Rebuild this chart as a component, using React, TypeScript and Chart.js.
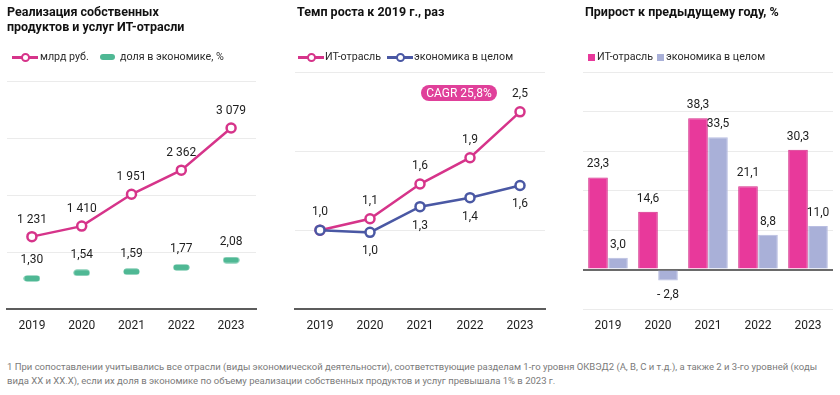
import React, { useEffect, useRef } from "react";
import { Chart, registerables } from "chart.js";

Chart.register(...registerables);

// ---------- data ----------
const years = ["2019", "2020", "2021", "2022", "2023"];
const itRevenue = [1231, 1410, 1951, 2362, 3079]; // млрд руб.
const itShare = [1.3, 1.54, 1.59, 1.77, 2.08]; // доля в экономике, %
const itRate = [1.0, 1.145, 1.585, 1.919, 2.501]; // темп роста к 2019
const econRate = [1.0, 0.972, 1.298, 1.412, 1.567];
const itGrowth = [23.3, 14.6, 38.3, 21.1, 30.3]; // прирост, %
const econGrowth = [3.0, -2.8, 33.5, 8.8, 11.0];

const PINK_LINE = "#d6348a";
const PINK_BAR = "#e8399b";
const GREEN = "#4fb894";
const BLUE = "#4a58a4";
const LIGHT_BLUE = "#a9b0d8";
const GRID = "#ebebeb";
const AXIS = "#5c5c5c";
const FONT = "Roboto, 'Open Sans', sans-serif";

const fmtThousands = (v: number) => {
  const s = Math.round(v).toString();
  return s.replace(/\B(?=(\d{3})+(?!\d))/g, " ");
};
const fmtDec = (d: number) => (v: number) => {
  const s = Math.abs(v).toFixed(d).replace(".", ",");
  return v < 0 ? "- " + s : s;
};

const labelPlugin = {
  id: "valueLabels",
  afterDatasetsDraw(chart: any) {
    const ctx = chart.ctx;
    ctx.save();
    ctx.font = "12px " + FONT;
    ctx.fillStyle = "#1e1e1e";
    ctx.textAlign = "center";
    ctx.textBaseline = "middle";
    chart.data.datasets.forEach((ds: any, i: number) => {
      const meta = chart.getDatasetMeta(i);
      const fmt = ds.fmt;
      if (!fmt) return;
      const skip: number[] = ds.skipLabels || [];
      meta.data.forEach((el: any, j: number) => {
        if (skip.includes(j)) return;
        const v = ds.data[j];
        const p = el.getProps(["x", "y"], true);
        let ly: number;
        if (meta.type === "bar") {
          ly = v >= 0 ? p.y - 13 : p.y + 14;
        } else {
          ly = p.y + ds.labelOffset;
        }
        ctx.fillText(fmt(v), p.x, ly);
      });
    });
    ctx.restore();
  },
};

function makeDash(color: string) {
  const c = document.createElement("canvas");
  c.width = 17;
  c.height = 7;
  const g = c.getContext("2d")!;
  g.fillStyle = color;
  g.beginPath();
  (g as any).roundRect(0.5, 0.5, 16, 6, 3);
  g.fill();
  return c;
}

const xAxis = (borderColor: string | null) => ({
  type: "category" as const,
  offset: true,
  grid: { display: false, drawTicks: false, offset: true },
  border: borderColor
    ? { display: true, color: borderColor, width: 2 }
    : { display: false },
  ticks: {
    color: "#1e1e1e",
    font: { family: FONT, size: 12 },
    padding: 10,
    maxRotation: 0,
    autoSkip: false,
  },
  afterFit: (s: any) => {
    s.height = 36;
  },
});

function useChart(ref: React.RefObject<HTMLCanvasElement | null>, build: () => any) {
  useEffect(() => {
    if (!ref.current) return;
    const chart = new Chart(ref.current, build());
    return () => chart.destroy();
  }, []);
}

const baseOpts = (padding: any) => ({
  responsive: false,
  animation: false as const,
  devicePixelRatio: 1,
  layout: { padding },
  plugins: { legend: { display: false }, tooltip: { enabled: false } },
});

const hiddenY = (min: number, max: number, step: number, zeroColor: string, zeroWidth = 1) => ({
  min,
  max,
  ticks: { display: false, stepSize: step },
  grid: {
    drawTicks: false,
    color: (c: any) => (c.tick && c.tick.value === 0 ? zeroColor : GRID),
    lineWidth: (c: any) => (c.tick && c.tick.value === 0 ? zeroWidth : 1),
  },
  border: { display: false },
  afterFit: (s: any) => {
    s.width = 0;
  },
});

function RevenueChart() {
  const ref = useRef<HTMLCanvasElement>(null);
  useChart(ref, () => ({
    type: "line",
    data: {
      labels: years,
      datasets: [
        {
          data: itRevenue,
          borderColor: PINK_LINE,
          borderWidth: 2.5,
          pointRadius: 4.5,
          pointBorderWidth: 2.5,
          pointBackgroundColor: "#fff",
          pointBorderColor: PINK_LINE,
          yAxisID: "y",
          fmt: fmtThousands,
          labelOffset: -17,
          clip: false,
        },
        {
          data: itShare,
          showLine: false,
          pointStyle: makeDash(GREEN),
          pointRadius: 6,
          yAxisID: "y1",
          fmt: fmtDec(2),
          labelOffset: -18,
          clip: false,
        },
      ],
    },
    options: {
      ...baseOpts({ left: 6, right: 24, top: 81, bottom: 0 }),
      scales: {
        x: xAxis(AXIS),
        y: hiddenY(0, 3878, 1000, "rgba(0,0,0,0)"),
        y1: { display: false, min: 0, max: 9.7 },
      },
    },
    plugins: [labelPlugin],
  }));
  return (
    <canvas
      ref={ref}
      width={280}
      height={345}
      style={{ position: "absolute", left: 0, top: 0, width: 280, height: 345 }}
    />
  );
}

function RateChart() {
  const ref = useRef<HTMLCanvasElement>(null);
  const line = (data: number[], color: string, off: number, skipLabels: number[]) => ({
    data,
    borderColor: color,
    borderWidth: 2.5,
    pointRadius: 4.5,
    pointBorderWidth: 2.5,
    pointBackgroundColor: "#fff",
    pointBorderColor: color,
    fmt: fmtDec(1),
    labelOffset: off,
    skipLabels,
    clip: false,
  });
  useChart(ref, () => ({
    type: "line",
    data: {
      labels: years,
      datasets: [line(econRate, BLUE, 19, [0]), line(itRate, PINK_LINE, -18, [])],
    },
    options: {
      ...baseOpts({ left: 15, right: 15, top: 72.5, bottom: 0 }),
      scales: {
        x: xAxis(AXIS),
        y: hiddenY(0, 3, 1, "rgba(0,0,0,0)"),
      },
    },
    plugins: [labelPlugin],
  }));
  return (
    <canvas
      ref={ref}
      width={280}
      height={345}
      style={{ position: "absolute", left: 280, top: 0, width: 280, height: 345 }}
    />
  );
}

function GrowthChart() {
  const ref = useRef<HTMLCanvasElement>(null);
  useChart(ref, () => ({
    type: "bar",
    data: {
      labels: years,
      datasets: [
        {
          data: itGrowth,
          backgroundColor: PINK_BAR,
          borderColor: "#d42d88",
          borderWidth: 1,
          categoryPercentage: 0.8,
          barPercentage: 0.98,
          fmt: fmtDec(1),
        },
        {
          data: econGrowth,
          backgroundColor: LIGHT_BLUE,
          borderColor: "#b9bee2",
          borderWidth: 1,
          categoryPercentage: 0.8,
          barPercentage: 0.98,
          fmt: fmtDec(1),
        },
      ],
    },
    options: {
      ...baseOpts({ left: 23, right: 7, top: 72, bottom: 0 }),
      scales: {
        x: xAxis(null),
        y: hiddenY(-10, 50, 10, "#6a6a6a", 2),
      },
    },
    plugins: [labelPlugin],
  }));
  return (
    <canvas
      ref={ref}
      width={280}
      height={345}
      style={{ position: "absolute", left: 560, top: 0, width: 280, height: 345 }}
    />
  );
}

const titleStyle: React.CSSProperties = {
  position: "absolute",
  fontFamily: FONT,
  fontWeight: 700,
  fontSize: 12.5,
  lineHeight: "15px",
  color: "#111",
  whiteSpace: "nowrap",
};

const legendText: React.CSSProperties = {
  position: "absolute",
  fontFamily: FONT,
  fontSize: 10.7,
  lineHeight: "14px",
  color: "#2a2a2a",
  whiteSpace: "nowrap",
  top: 50,
};

function LineSym({ left, color }: { left: number; color: string }) {
  return (
    <div style={{ position: "absolute", left, top: 51, width: 26, height: 12 }}>
      <div style={{ position: "absolute", left: 0, top: 5, width: 26, height: 2.5, background: color }} />
      <div
        style={{
          position: "absolute",
          left: 8.5,
          top: 1.5,
          width: 5,
          height: 5,
          borderRadius: "50%",
          border: `2.5px solid ${color}`,
          background: "#fff",
        }}
      />
    </div>
  );
}

export default function App() {
  return (
    <div
      style={{
        position: "absolute",
        left: 0,
        top: 0,
        width: 840,
        height: 395,
        background: "#fff",
        overflow: "hidden",
      }}
    >
      <RevenueChart />
      <RateChart />
      <GrowthChart />

      {/* titles */}
      <div style={{ ...titleStyle, left: 7, top: 4 }}>
        Реализация собственных
        <br />
        продуктов и услуг ИТ-отрасли
      </div>
      <div style={{ ...titleStyle, left: 297, top: 4 }}>Темп роста к 2019 г., раз</div>
      <div style={{ ...titleStyle, left: 585, top: 4 }}>Прирост к предыдущему году, %</div>

      {/* legend 1 */}
      <LineSym left={12} color={PINK_LINE} />
      <div style={{ ...legendText, left: 40 }}>млрд руб.</div>
      <div
        style={{
          position: "absolute",
          left: 100,
          top: 54,
          width: 15,
          height: 6,
          borderRadius: 3,
          background: GREEN,
        }}
      />
      <div style={{ ...legendText, left: 120 }}>доля в экономике, %</div>

      {/* legend 2 */}
      <LineSym left={298} color={PINK_LINE} />
      <div style={{ ...legendText, left: 325 }}>ИТ-отрасль</div>
      <LineSym left={387} color={BLUE} />
      <div style={{ ...legendText, left: 414 }}>экономика в целом</div>

      {/* legend 3 */}
      <div style={{ position: "absolute", left: 588, top: 54, width: 7, height: 7, background: PINK_BAR }} />
      <div style={{ ...legendText, left: 597 }}>ИТ-отрасль</div>
      <div style={{ position: "absolute", left: 657, top: 54, width: 7, height: 7, background: LIGHT_BLUE }} />
      <div style={{ ...legendText, left: 666 }}>экономика в целом</div>

      {/* CAGR badge */}
      <div
        style={{
          position: "absolute",
          left: 421,
          top: 85,
          width: 76,
          height: 16,
          borderRadius: 8,
          background: "#e0409a",
          color: "#fff",
          fontFamily: FONT,
          fontSize: 12,
          lineHeight: "16px",
          textAlign: "center",
          whiteSpace: "nowrap",
        }}
      >
        CAGR 25,8%
      </div>

      {/* footnote */}
      <div
        style={{
          position: "absolute",
          left: 7,
          top: 360,
          fontFamily: FONT,
          fontSize: 9.5,
          lineHeight: "13.5px",
          color: "#7a7a7a",
          whiteSpace: "nowrap",
        }}
      >
        1 При сопоставлении учитывались все отрасли (виды экономической деятельности), соответствующие разделам 1-го уровня ОКВЭД2 (А, В, С и т.д.), а также 2 и 3-го уровней (коды
        <br />
        вида XX и XX.X), если их доля в экономике по объему реализации собственных продуктов и услуг превышала 1% в 2023 г.
      </div>
    </div>
  );
}
